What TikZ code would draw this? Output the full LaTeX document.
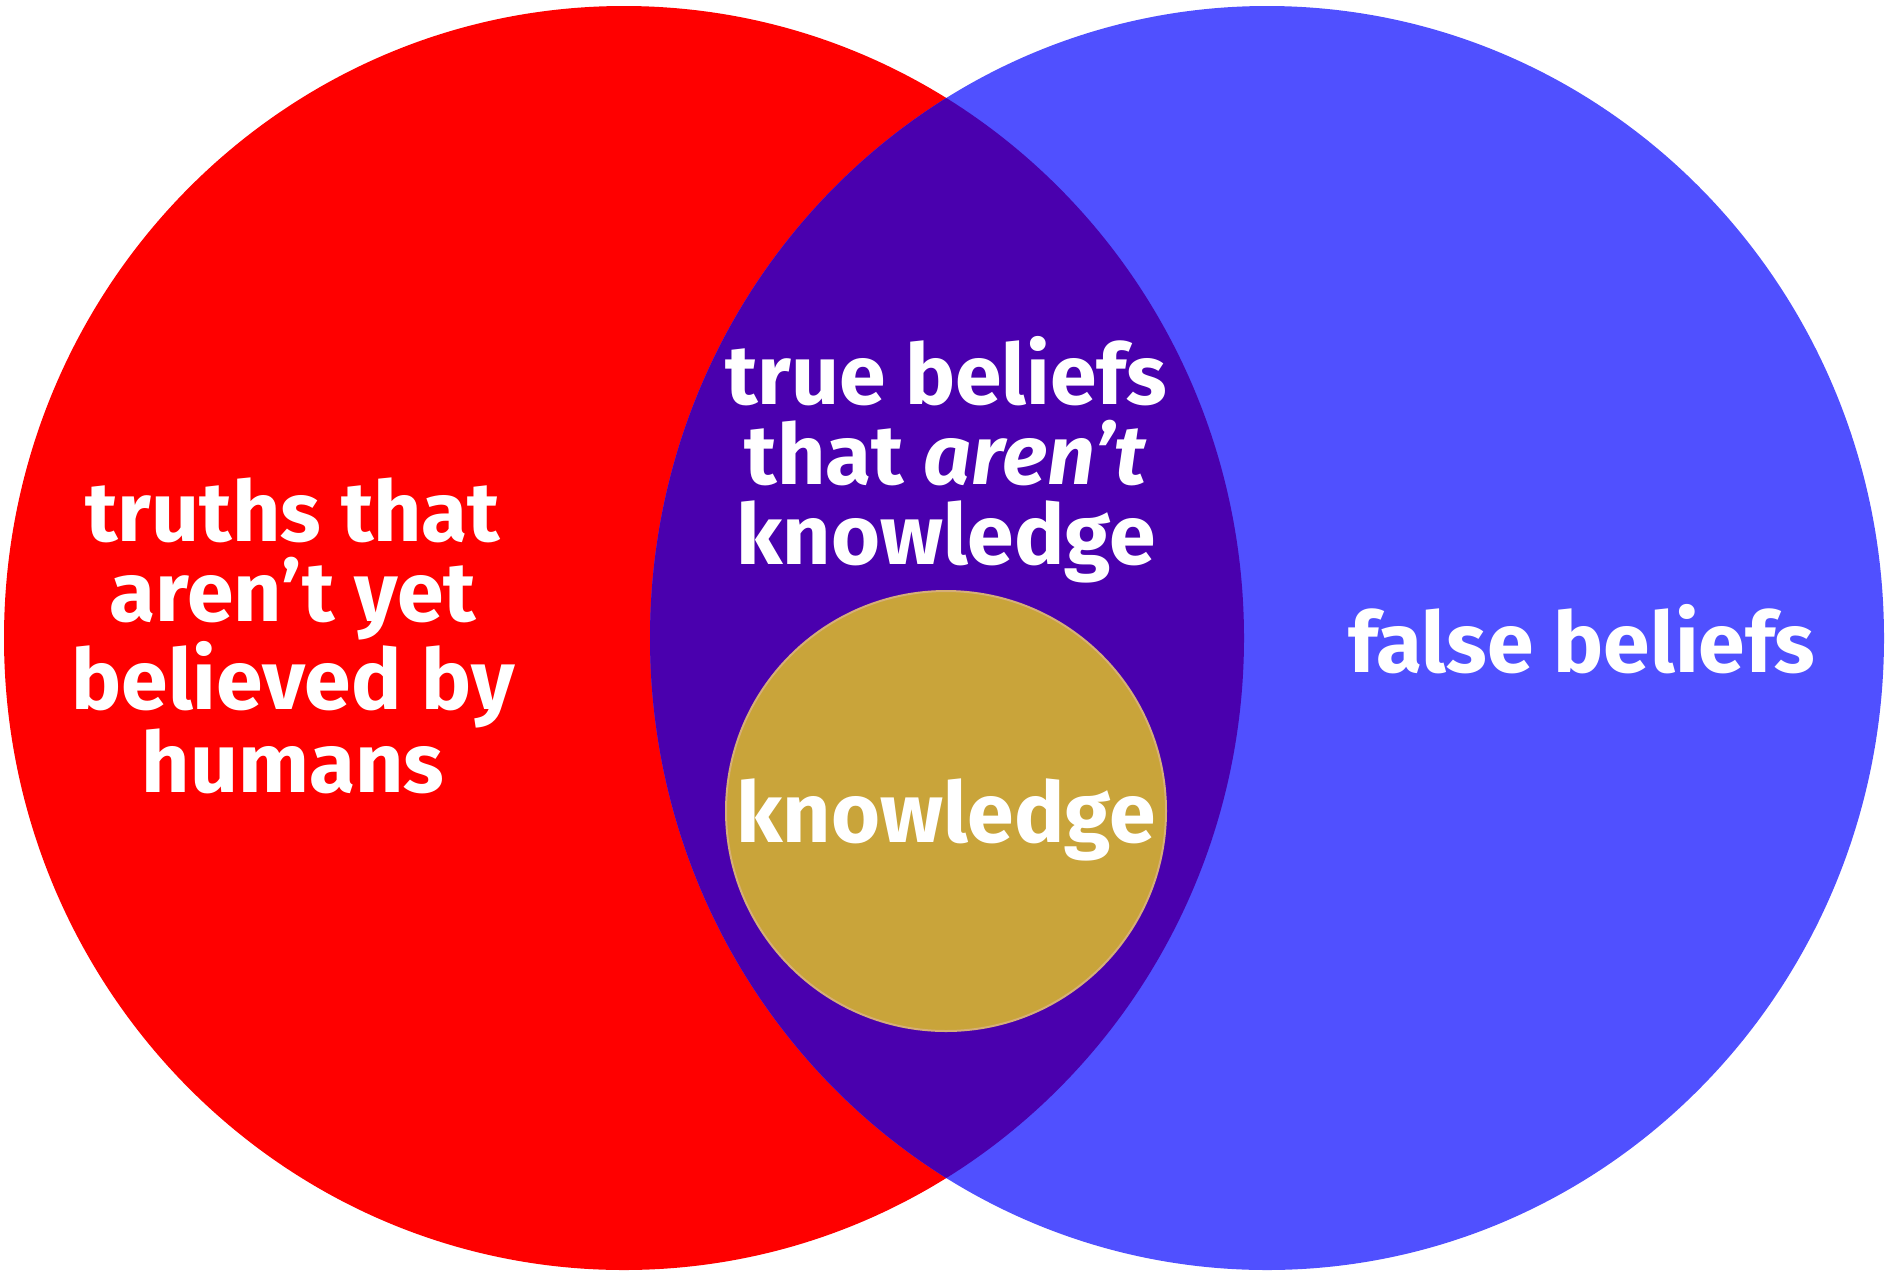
\documentclass[tikz,border=0pt]{standalone}
\usepackage{fontspec}
\setmainfont{Fira Sans}
\definecolor{redc}{HTML}{FF0000}
\definecolor{bluec}{HTML}{5050FF}
\definecolor{purplec}{HTML}{4A00AE}
\definecolor{goldc}{HTML}{C9A43A}
\definecolor{goldedge}{HTML}{D6AE78}
\begin{document}
\begin{tikzpicture}[x=1pt,y=-1pt,
  lbl/.style={text=white, font=\fontsize{84}{80}\selectfont\bfseries, align=center, inner sep=0pt}]
\useasboundingbox (0,0) rectangle (1892,1275);
\fill[white] (0,0) rectangle (1892,1275);
\fill[redc] (624,638) ellipse [x radius=620, y radius=632];
\fill[bluec] (1267,638) ellipse [x radius=617, y radius=632];
\begin{scope}
  \clip (624,638) ellipse [x radius=620, y radius=632];
  \fill[purplec] (1267,638) ellipse [x radius=617, y radius=632];
\end{scope}
\node[circle, fill=goldc, draw=goldedge, line width=2pt, minimum size=440pt, inner sep=0pt] (gold) at (946,811) {};
\node[lbl] (truths) at (293,636) {truths that\\aren’t yet\\believed by\\humans};
\node[lbl] (truebel) at (946,460) {true beliefs\\that \textit{aren’t}\\knowledge};
\node[lbl, anchor=base] (know) at (946,842) {knowledge};
\node[lbl, anchor=base] (false) at (1582,672) {false beliefs};
\end{tikzpicture}
\end{document}
